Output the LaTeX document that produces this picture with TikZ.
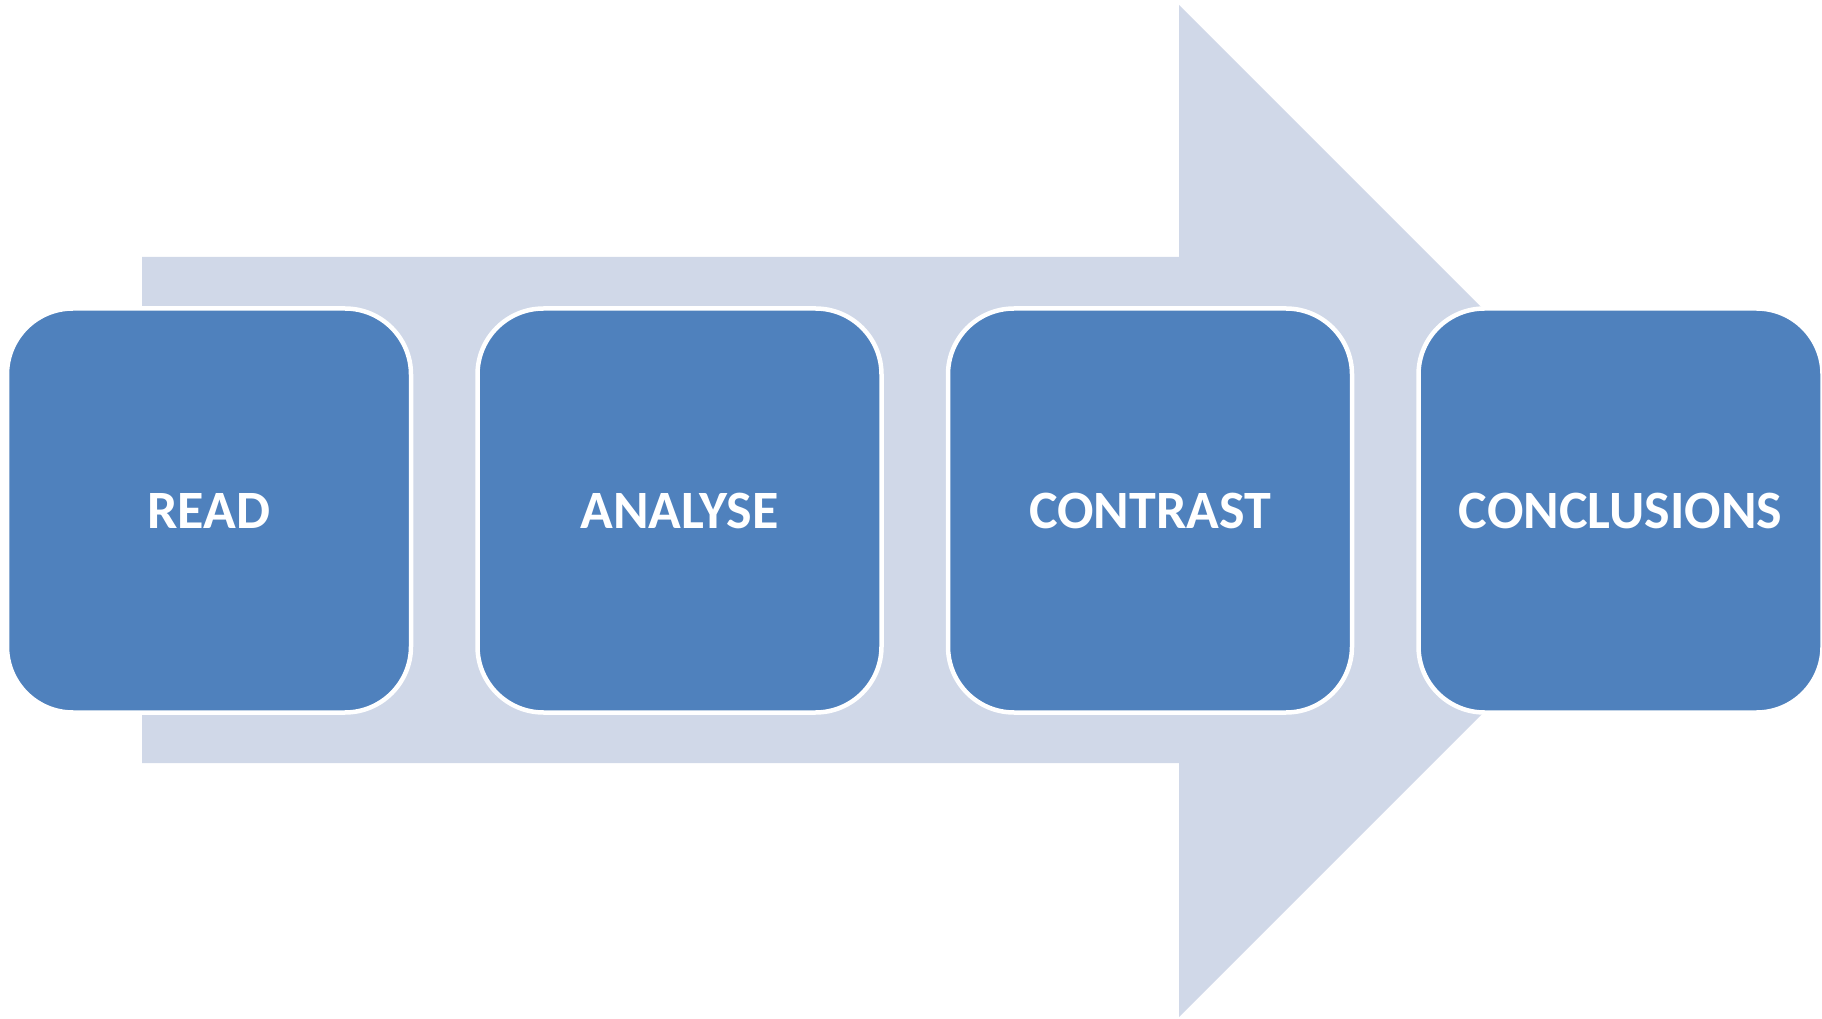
\documentclass[tikz,border=0pt]{standalone}
\usepackage{fontspec}
\setmainfont{Carlito}
\usetikzlibrary{positioning}
\definecolor{79_129_189}{RGB}{79, 129, 189}
\definecolor{208_216_232}{RGB}{208, 216, 232}

\begin{document}
\begin{tikzpicture}[
        x=1pt, y=1pt,
        node distance=62pt,
        stage/.style={
            draw=white,
            line width=4.5pt,
            fill=79_129_189,
            rounded corners=66pt,
            minimum width=404pt,
            minimum height=404pt,
            text=white,
            font=\bfseries\fontsize{54}{60}\selectfont
        }
    ]
    \useasboundingbox (0,0) rectangle (1822,1018);

    % background arrow
    \fill[208_216_232] (142,761) -- (1179,761) -- (1179,1013) -- (1685,507)
        -- (1179,1) -- (1179,255) -- (142,255) -- cycle;

    \node[stage] (read) at (209,507.5) {READ};
    \node[stage, right=of read] (analyse) {ANALYSE};
    \node[stage, right=of analyse] (contrast) {CONTRAST};
    \node[stage, right=of contrast] (conclusions) {CONCLUSIONS};
\end{tikzpicture}
\end{document}
